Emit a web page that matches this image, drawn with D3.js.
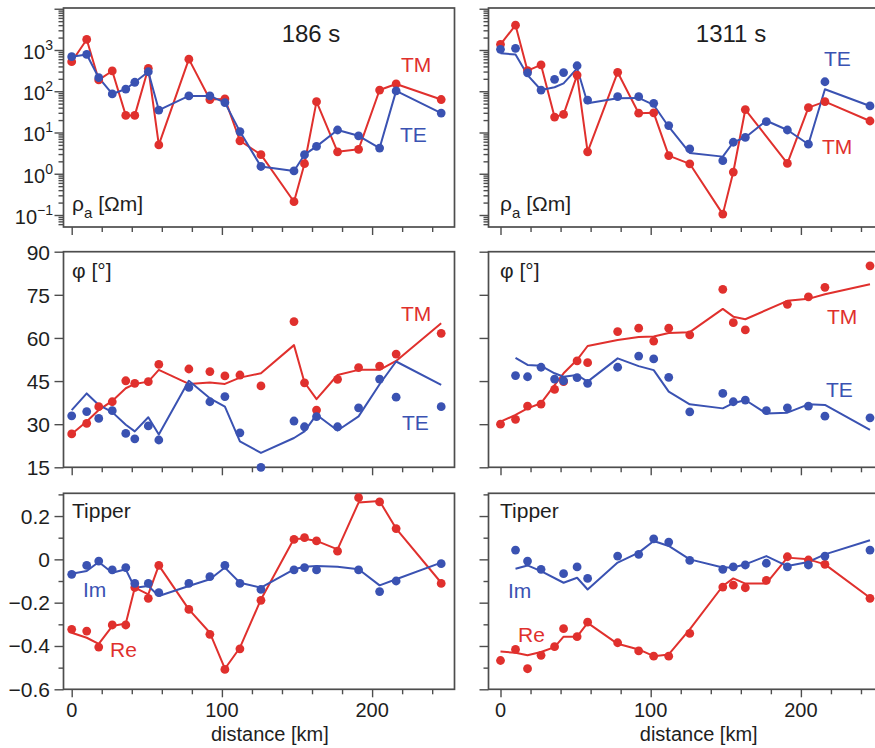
<!DOCTYPE html>
<html>
<head>
<meta charset="utf-8">
<script src="https://cdn.jsdelivr.net/npm/d3@7"></script>
<style>
  body { margin: 0; background: #fff; }
  svg { display: block; font-family: "Liberation Sans", Arial, Helvetica, sans-serif; }
</style>
</head>
<body>
<svg id="chart" width="875" height="748"></svg>
<script>
// Station positions along the profile [km]
const distance = [0, 10, 18, 27, 36, 42, 51, 58, 78, 92, 102, 112, 126, 148, 155, 163, 177, 191, 205, 216, 246];

// Apparent resistivity [Ohm m], period 186 s (curves join the data)
const rhoTM186 = [520, 1800, 188, 310, 26, 26, 360, 5, 600, 63, 65, 6.3, 2.9, 0.21, 1.75, 56, 3.4, 3.9, 107, 150, 63];
const rhoTE186 = [690, 780, 213, 86, 113, 165, 297, 35, 77, 77, 53, 10.5, 1.5, 1.17, 2.9, 4.6, 11.5, 8.3, 4.2, 102, 29.6];

// Apparent resistivity [Ohm m], period 1311 s
const rhoTM1311 = [1370, 4000, 315, 435, 23.6, 27.6, 246, 3.4, 288, 29.4, 30, 2.75, 1.74, 0.105, 1.1, 36, null, 1.78, 40, 56, 19];
const rhoTE1311 = [1040, 1100, 280, 107, 195, 283, 415, 61, 74, 74, 51, 14.7, 4.0, 2.07, 5.8, 7.6, 18.3, 11.5, 5.2, 170, 44];
const rhoTE1311Model = [830, 780, 246, 107, 125, 155, 360, 51, 68, 69, 46.5, 13.8, 3.2, 2.6, 5.8, 7.6, 19.3, 11.5, 5.2, 112, 44];

// Phase [deg], 186 s: data and model response
const phiTM186 = [26.6, 30.3, 36.1, 37.8, 45.1, 44.2, 44.8, 50.8, 49.2, 48.3, 46.8, 47.1, 43.3, 65.7, 44.4, 34.9, 45.6, 49.7, 50.2, 54.4, 61.6];
const phiTE186 = [32.9, 34.4, 32.0, 34.7, 26.8, 24.9, 29.4, 24.5, 42.8, 37.8, 39.6, 27.0, 15.0, 31.1, 29.1, 32.6, 29.1, 35.7, 45.7, 39.4, 36.1];
const phiTM186Model = [26.6, 30.9, 34.9, 38.1, 42.5, 44.0, 44.8, 48.9, 44.0, 44.5, 44.0, 46.2, 47.7, 57.5, 44.5, 38.7, 47.1, 48.9, 48.9, 52.0, 65.1];
const phiTE186Model = [34.9, 40.7, 36.7, 34.2, 29.8, 27.5, 32.4, 26.4, 45.1, 39.0, 36.1, 24.0, 20.0, 25.2, 27.5, 33.3, 27.8, 32.7, 43.9, 51.8, 43.7];

// Phase [deg], 1311 s
const phiTM1311 = [30.0, 31.7, 36.3, 37.0, 42.1, 44.8, 52.0, 51.4, 62.2, 63.4, 58.9, 63.4, 61.1, 76.9, 65.3, 62.8, null, 71.7, 74.3, 77.6, 85.1];
const phiTE1311 = [null, 46.9, 46.5, 49.8, 45.7, 45.1, 46.2, 44.2, 49.8, 53.7, 52.7, 46.3, 34.3, 40.7, 37.8, 38.4, 34.7, 35.7, 36.3, 32.8, 32.2];
const phiTM1311Model = [30.9, 33.2, 35.5, 37.3, 43.6, 47.7, 52.4, 57.2, 59.3, 60.3, 60.5, 61.7, 62.0, 70.1, 67.4, 66.5, null, 72.9, 73.6, 75.2, 78.7];
const phiTE1311Model = [null, 53.1, 50.6, 50.3, 47.7, 46.5, 47.1, 44.8, 52.9, 50.2, 48.8, 41.3, 36.9, 35.5, 37.3, 38.4, 33.7, 34.0, 36.9, 36.7, 28.0];

// Tipper, 186 s
const tipRe186 = [-0.323, -0.331, -0.405, -0.303, -0.303, -0.13, -0.180, -0.028, -0.231, -0.346, -0.508, -0.413, -0.189, 0.092, 0.100, 0.085, 0.038, 0.285, 0.265, 0.142, -0.111];
const tipIm186 = [-0.069, -0.028, -0.008, -0.049, -0.038, -0.111, -0.111, -0.154, -0.111, -0.080, -0.028, -0.111, -0.139, -0.049, -0.038, -0.049, null, -0.049, -0.149, -0.100, -0.020];
const tipRe186Model = [-0.339, -0.362, -0.390, -0.308, -0.296, -0.131, -0.162, -0.028, -0.231, -0.339, -0.505, -0.408, -0.185, 0.095, 0.095, 0.085, 0.046, 0.262, 0.269, 0.142, -0.108];
const tipIm186Model = [-0.066, -0.054, -0.012, -0.062, -0.046, -0.131, -0.123, -0.169, -0.123, -0.092, -0.038, -0.108, -0.131, -0.046, -0.034, -0.031, -0.034, -0.046, -0.120, -0.092, -0.015];

// Tipper, 1311 s
const tipRe1311 = [-0.467, -0.416, -0.505, -0.443, -0.403, -0.320, -0.357, -0.290, -0.385, -0.423, -0.447, -0.447, -0.342, -0.128, -0.119, -0.131, -0.097, 0.012, -0.003, -0.023, -0.180];
const tipIm1311 = [null, 0.043, -0.008, -0.046, null, -0.066, -0.035, -0.088, 0.015, 0.023, 0.095, 0.080, -0.005, -0.046, -0.035, -0.026, -0.018, -0.035, -0.026, 0.015, 0.043];
const tipRe1311Model = [-0.426, -0.431, -0.443, -0.428, -0.405, -0.357, -0.357, -0.293, -0.390, -0.416, -0.447, -0.439, -0.323, -0.123, -0.088, -0.112, -0.111, 0.008, 0.000, -0.023, -0.177];
const tipIm1311Model = [null, -0.043, -0.028, -0.054, null, -0.108, -0.085, -0.139, -0.015, 0.031, 0.085, 0.062, 0.000, -0.038, -0.038, -0.023, 0.015, -0.031, -0.012, 0.023, 0.088];

// Tick values
const xMinorTicks = [20, 40, 60, 80, 120, 140, 160, 180, 220, 240];
const xMajorTicks = [0, 100, 200];
const rhoDecades = [-1, 0, 1, 2, 3, 4];
const rhoLabelExp = ["3", "2", "1", "0", "\u22121"];
const phiTicks = [15, 30, 45, 60, 75, 90];
const tipMajorTicks = [-0.6, -0.4, -0.2, 0, 0.2];
const tipMinorTicks = [-0.5, -0.3, -0.1, 0.1, 0.3];
const tipLabels = ["\u22120.6", "\u22120.4", "\u22120.2", "0", "0.2"];

const RED = "#e0302d";
const BLUE = "#3a52b2";
const AXIS = "#4d4d4d";
const TEXT = "#1e1e1e";

const svg = d3.select("#chart");

// Layout of the 3 x 2 grid
const kmPx = 1.502;
const columns = [
  { left: 63.5, right: 454.5, zero: 71.7 },
  { left: 488.5, right: 880, zero: 500.5 }
];
const rows = [
  { top: 8, bottom: 227 },
  { top: 251.7, bottom: 467.3 },
  { top: 493.3, bottom: 689.3 }
];

const xScales = columns.map(c =>
  d3.scaleLinear()
    .domain([(c.left - c.zero) / kmPx, (c.right - c.zero) / kmPx])
    .range([c.left, c.right]));

const yScales = [
  d3.scaleLog().domain([Math.pow(10, -1.291), Math.pow(10, 4.018)]).range([rows[0].bottom, rows[0].top]),
  d3.scaleLinear().domain([15, 90]).range([rows[1].bottom, rows[1].top]),
  d3.scaleLinear().domain([-0.6, 0.305]).range([rows[2].bottom, rows[2].top])
];

// log minor ticks 2..9 per decade inside the domain
const rhoMinor = [];
for (let e = -2; e <= 4; e++) for (let m = 2; m <= 9; m++) {
  const v = m * Math.pow(10, e);
  if (v > yScales[0].domain()[0] && v < yScales[0].domain()[1]) rhoMinor.push(v);
}

function styleTicks(g) {
  g.select(".domain").remove();
  g.selectAll("line").attr("stroke", AXIS).attr("stroke-width", 1.4);
  g.selectAll("text").remove();
}

function drawYTicks(rowIdx, colIdx) {
  const c = columns[colIdx];
  const y = yScales[rowIdx];
  let major, minor;
  if (rowIdx === 0) { major = rhoDecades.map(e => Math.pow(10, e)); minor = rhoMinor; }
  else if (rowIdx === 1) { major = phiTicks; minor = []; }
  else { major = tipMajorTicks; minor = tipMinorTicks; }
  svg.append("g").attr("transform", `translate(${c.left},0)`)
    .call(d3.axisLeft(y).tickValues(major).tickSize(9).tickFormat(""))
    .call(styleTicks);
  if (minor.length)
    svg.append("g").attr("transform", `translate(${c.left},0)`)
      .call(d3.axisLeft(y).tickValues(minor).tickSize(5).tickFormat(""))
      .call(styleTicks);
}

function drawXTicks(rowIdx, colIdx) {
  const r = rows[rowIdx];
  const x = xScales[colIdx];
  svg.append("g").attr("transform", `translate(0,${r.bottom})`)
    .call(d3.axisBottom(x).tickValues(xMajorTicks).tickSize(8).tickFormat(""))
    .call(styleTicks);
  svg.append("g").attr("transform", `translate(0,${r.bottom})`)
    .call(d3.axisBottom(x).tickValues(xMinorTicks).tickSize(5).tickFormat(""))
    .call(styleTicks);
}

// Frames and ticks
rows.forEach((r, ri) => {
  columns.forEach((c, ci) => {
    drawYTicks(ri, ci);
    drawXTicks(ri, ci);
    svg.append("rect")
      .attr("x", c.left).attr("y", r.top)
      .attr("width", c.right - c.left).attr("height", r.bottom - r.top)
      .attr("fill", "none").attr("stroke", AXIS).attr("stroke-width", 1.7);
  });
});

// Left tick labels
const labelX = 50;
const rhoLabelG = svg.append("g").attr("font-size", 20).attr("fill", TEXT).attr("text-anchor", "end");
rhoLabelExp.forEach((exp, i) => {
  const v = Math.pow(10, 3 - i);
  const t = rhoLabelG.append("text").attr("x", labelX + 3).attr("y", yScales[0](v) + 9);
  t.append("tspan").text("10");
  t.append("tspan").attr("dy", -9).attr("font-size", 14).text(exp);
});

svg.append("g").attr("font-size", 21).attr("fill", TEXT).attr("text-anchor", "end")
  .selectAll("text").data(phiTicks).join("text")
  .attr("x", labelX).attr("y", d => yScales[1](d) + 8)
  .text(d => d);

svg.append("g").attr("font-size", 21).attr("fill", TEXT).attr("text-anchor", "end")
  .selectAll("text").data(tipMajorTicks).join("text")
  .attr("x", labelX).attr("y", d => yScales[2](d) + 7.5)
  .text((d, i) => tipLabels[i]);

// Distance labels under the bottom row
columns.forEach((c, ci) => {
  const x = xScales[ci];
  svg.append("g").attr("font-size", 20).attr("fill", TEXT).attr("text-anchor", "middle")
    .selectAll("text").data(xMajorTicks).join("text")
    .attr("x", d => x(d)).attr("y", 717)
    .text(d => d);
  svg.append("text").attr("x", x(100) + 48).attr("y", 741)
    .attr("font-size", 20).attr("fill", TEXT).attr("text-anchor", "middle")
    .text("distance [km]");
});

// Data series per panel
const panels = [
  { row: 0, col: 0, series: [
    { dots: rhoTM186, line: rhoTM186, color: RED },
    { dots: rhoTE186, line: rhoTE186, color: BLUE } ] },
  { row: 0, col: 1, series: [
    { dots: rhoTM1311, line: rhoTM1311, color: RED },
    { dots: rhoTE1311, line: rhoTE1311Model, color: BLUE } ] },
  { row: 1, col: 0, series: [
    { dots: phiTM186, line: phiTM186Model, color: RED },
    { dots: phiTE186, line: phiTE186Model, color: BLUE } ] },
  { row: 1, col: 1, series: [
    { dots: phiTM1311, line: phiTM1311Model, color: RED },
    { dots: phiTE1311, line: phiTE1311Model, color: BLUE } ] },
  { row: 2, col: 0, series: [
    { dots: tipRe186, line: tipRe186Model, color: RED },
    { dots: tipIm186, line: tipIm186Model, color: BLUE } ] },
  { row: 2, col: 1, series: [
    { dots: tipRe1311, line: tipRe1311Model, color: RED },
    { dots: tipIm1311, line: tipIm1311Model, color: BLUE } ] }
];

panels.forEach(p => {
  const x = xScales[p.col];
  const y = yScales[p.row];
  const g = svg.append("g");
  const line = d3.line().x(d => x(d.d)).y(d => y(d.v));
  p.series.forEach(s => {
    const pts = distance.map((d, i) => ({ d, v: s.line[i] })).filter(o => o.v != null);
    g.append("path").attr("d", line(pts))
      .attr("fill", "none").attr("stroke", s.color)
      .attr("stroke-width", 2).attr("stroke-linejoin", "round");
  });
  p.series.forEach(s => {
    const pts = distance.map((d, i) => ({ d, v: s.dots[i] })).filter(o => o.v != null);
    g.selectAll(null).data(pts).join("circle")
      .attr("cx", o => x(o.d)).attr("cy", o => y(o.v)).attr("r", 4.4)
      .attr("fill", s.color);
  });
});

// Panel annotations
function label(x, y, txt, color, size) {
  return svg.append("text").attr("x", x).attr("y", y)
    .attr("font-size", size || 21).attr("fill", color || TEXT).text(txt);
}

label(311, 42, "186 s", TEXT, 24).attr("text-anchor", "middle");
label(731, 42, "1311 s", TEXT, 24).attr("text-anchor", "middle");

label(401, 72, "TM", RED);
label(400, 142, "TE", BLUE);
label(824, 66, "TE", BLUE);
label(822, 154, "TM", RED);

[72, 500].forEach(x0 => {
  const t = svg.append("text").attr("x", x0).attr("y", 211).attr("font-size", 21).attr("fill", TEXT);
  t.append("tspan").text("\u03c1");
  t.append("tspan").attr("dy", 7).attr("font-size", 15).text("a");
  t.append("tspan").attr("dy", -7).text(" [\u03a9m]");
  svg.append("text").attr("x", x0).attr("y", 278).attr("font-size", 21).attr("fill", TEXT)
    .text("\u03c6 [\u00b0]");
  svg.append("text").attr("x", x0).attr("y", 518).attr("font-size", 21).attr("fill", TEXT)
    .text("Tipper");
});

label(401, 321, "TM", RED);
label(402, 430, "TE", BLUE);
label(827, 324, "TM", RED);
label(826, 397, "TE", BLUE);

label(83, 597, "Im", BLUE);
label(110, 657, "Re", RED);
label(508, 598, "Im", BLUE);
label(518, 642, "Re", RED);
</script>
</body>
</html>
